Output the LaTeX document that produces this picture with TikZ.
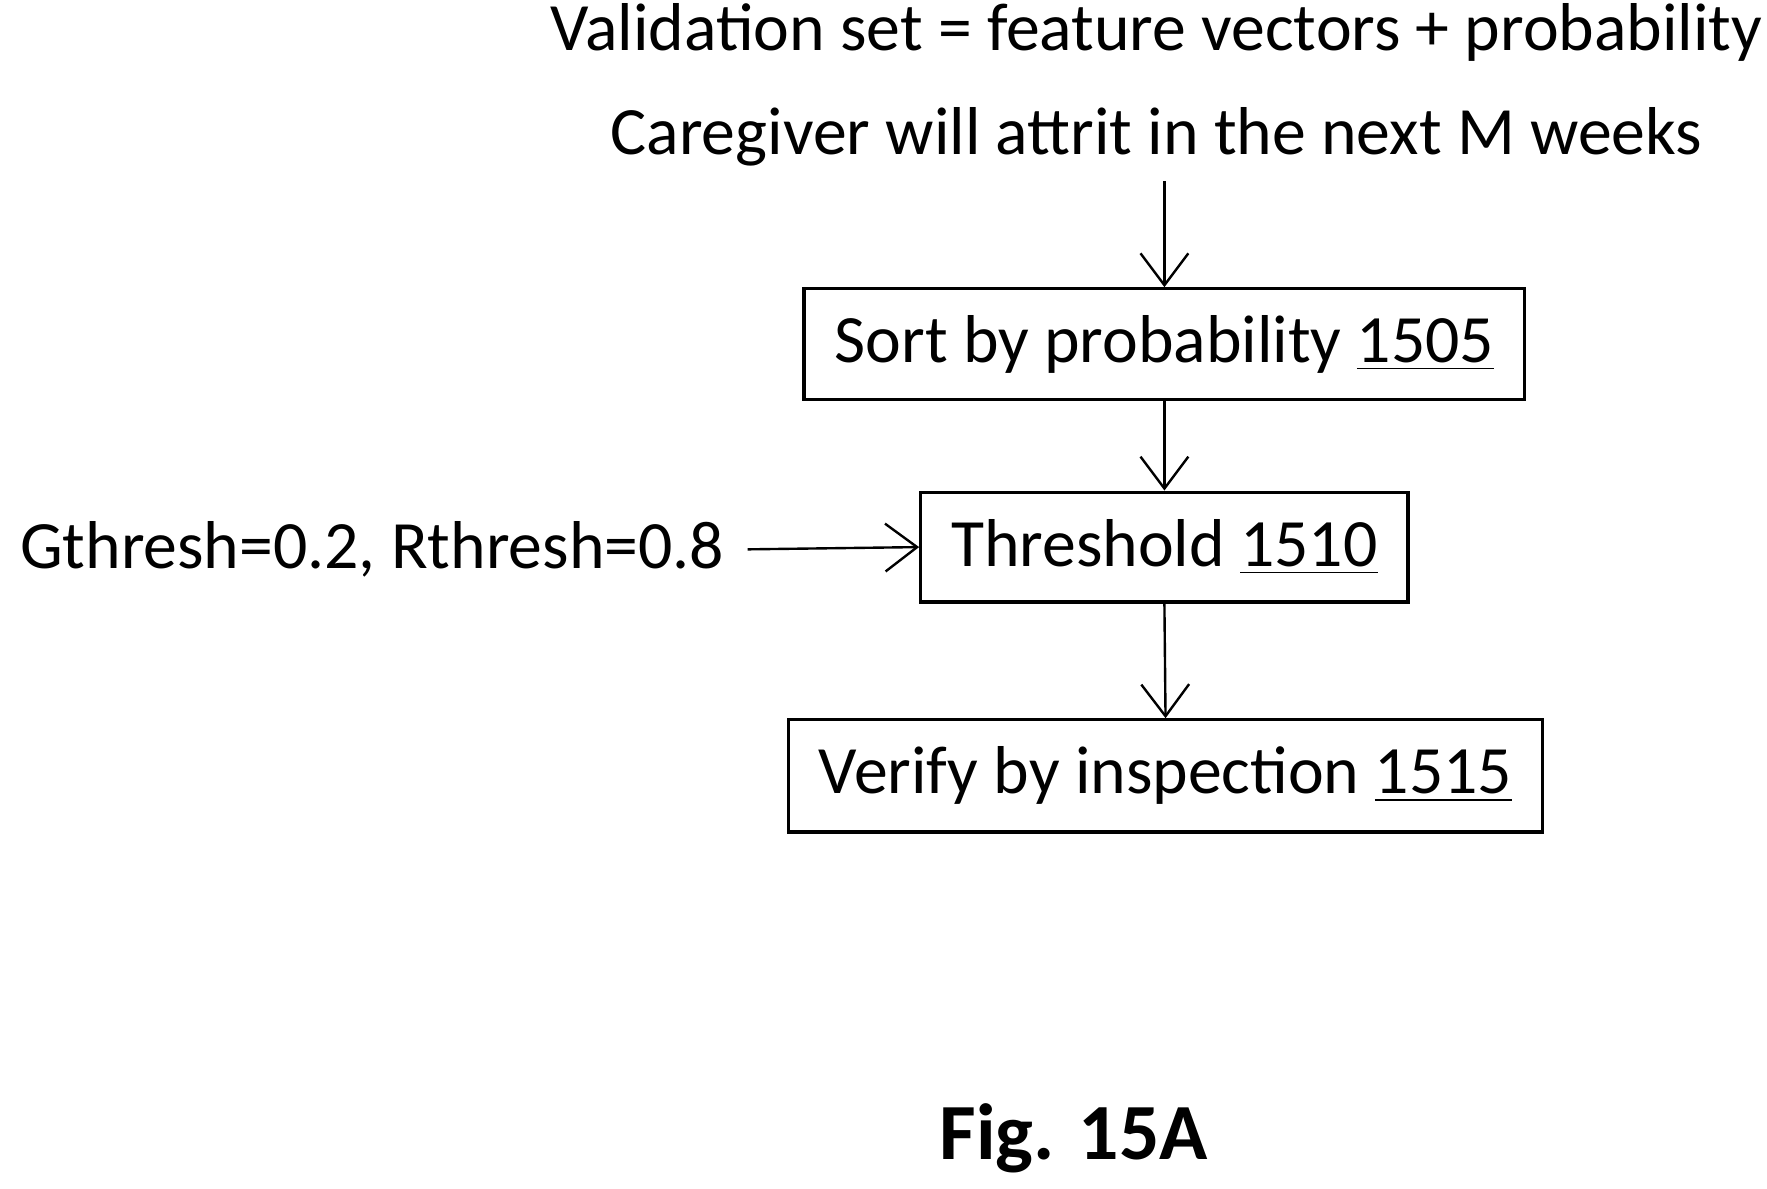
\documentclass[tikz,border=0pt]{standalone}
\usepackage{fontspec}
\setmainfont{Carlito}
\usetikzlibrary{arrows.meta}
\begin{document}
\begin{tikzpicture}[x=0.01cm,y=-0.01cm,
  box/.style={draw,line width=0.8pt,inner sep=0pt,font=\fontsize{17}{20}\selectfont},
  txt/.style={font=\fontsize{17}{20}\selectfont,inner sep=0pt},
  arr/.style={-{Straight Barb[length=8pt,width=12pt]},line width=0.6pt}]
\useasboundingbox (0,0) rectangle (1560,1049);
\node[txt,align=center] (top) at (1021,75) {Validation set = feature vectors + probability\\[6pt]Caregiver will attrit in the next M weeks};
\coordinate (ts) at (1028,160);
\node[box,minimum width=636\pgflinewidth*0+6.36cm,minimum height=0.98cm] (sort) at (1028,304) {Sort by probability \underline{1505}};
\node[box,minimum width=4.30cm,minimum height=0.97cm] (thr) at (1028,483) {Threshold \underline{1510}};
\node[box,minimum width=6.65cm,minimum height=0.99cm] (ver) at (1029,685) {Verify by inspection \underline{1515}};
\node[txt,anchor=west] (g) at (17,485) {Gthresh=0.2, Rthresh=0.8};
\coordinate (gs) at (660,485);
\node[txt,font=\fontsize{20}{24}\selectfont\bfseries] (fig) at (948,1005) {Fig. 15A};
\draw[arr] (ts) -- (sort.north);
\draw[arr] (sort.south) -- (thr.north);
\draw[arr] (thr.south) -- (ver.north);
\draw[arr] (gs) -- (thr.west);
\end{tikzpicture}
\end{document}
